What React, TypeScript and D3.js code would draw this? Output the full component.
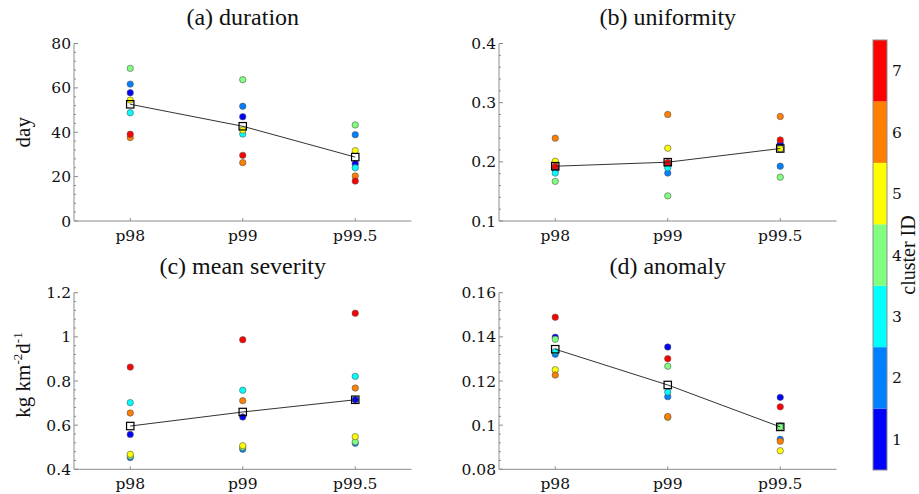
import * as d3 from "d3";

const categories = ["p98", "p99", "p99.5"];
const clusterIds = [1, 2, 3, 4, 5, 6, 7];
const clusterColors = ["#0000ff", "#0080ff", "#00ffff", "#80ff80", "#ffff00", "#ff8000", "#ff0000"];

// values per cluster (rows = cluster 1..7, columns = p98, p99, p99.5)
const durationByCluster = [
  [57.8, 47.0, 25.8],
  [61.7, 51.7, 38.9],
  [48.8, 39.2, 24.0],
  [68.8, 63.7, 43.3],
  [54.5, 41.0, 31.7],
  [37.6, 26.3, 20.3],
  [39.1, 29.6, 18.0],
];
const durationMean = [52.6, 42.7, 28.8];

const uniformityByCluster = [
  [0.188, 0.195, 0.231],
  [0.186, 0.181, 0.1926],
  [0.181, 0.19, 0.222],
  [0.167, 0.1425, 0.174],
  [0.201, 0.223, 0.222],
  [0.24, 0.28, 0.2766],
  [0.192, 0.199, 0.237],
];
const uniformityMean = [0.1926, 0.1994, 0.2225];

const severityByCluster = [
  [0.558, 0.637, 0.715],
  [0.453, 0.491, 0.518],
  [0.702, 0.758, 0.821],
  [0.46, 0.5, 0.525],
  [0.468, 0.507, 0.548],
  [0.655, 0.711, 0.768],
  [0.863, 0.987, 1.107],
];
const severityMean = [0.596, 0.6596, 0.715];

const anomalyByCluster = [
  [0.1398, 0.1354, 0.1126],
  [0.1321, 0.1129, 0.0936],
  [0.1333, 0.115, 0.0996],
  [0.1389, 0.1267, 0.0992],
  [0.1251, 0.1035, 0.0884],
  [0.1227, 0.1039, 0.0927],
  [0.1489, 0.1301, 0.1083],
];
const anomalyMean = [0.1344, 0.1182, 0.0992];

const durationTicks = [0, 20, 40, 60, 80];
const uniformityTicks = [0.1, 0.2, 0.3, 0.4];
const severityTicks = [0.4, 0.6, 0.8, 1, 1.2];
const anomalyTicks = [0.08, 0.1, 0.12, 0.14, 0.16];

const W = 919;
const H = 494;
const tickFont = "DejaVu Serif";
const textFont = "Liberation Serif";
const axisGray = "#8c8c8c";

const panels = [
  { title: "(a) duration", data: durationByCluster, mean: durationMean, ticks: durationTicks, x: [74, 411.5], y: [221, 43.5], ylabel: "day" },
  { title: "(b) uniformity", data: uniformityByCluster, mean: uniformityMean, ticks: uniformityTicks, x: [499, 836.5], y: [221, 43.5], ylabel: null },
  { title: "(c) mean severity", data: severityByCluster, mean: severityMean, ticks: severityTicks, x: [74, 411.5], y: [469.3, 292.7], ylabel: "kg" },
  { title: "(d) anomaly", data: anomalyByCluster, mean: anomalyMean, ticks: anomalyTicks, x: [499, 836.5], y: [469.3, 292.7], ylabel: null },
];

function Panel({ p }: { p: any }) {
  const x = d3.scaleLinear().domain([0.5, categories.length + 0.5]).range(p.x);
  const ticks: number[] = p.ticks;
  const y = d3.scaleLinear().domain([ticks[0], ticks[ticks.length - 1]]).range(p.y);
  const step = ticks[1] - ticks[0];
  const minor = d3.range(0, (ticks.length - 1) * 5 + 1).map((i) => ticks[0] + (i * step) / 5);
  const fmt = (v: number) => d3.format("~g")(+v.toFixed(4));
  const line = d3
    .line<number>()
    .x((_, i) => x(i + 1))
    .y((d) => y(d));
  const [x0, x1] = p.x;
  const [yb, yt] = p.y;
  const cx = (x0 + x1) / 2;

  return (
    <g>
      <text x={cx} y={yt - 19} textAnchor="middle" fontFamily={textFont} fontSize={24} fill="#111">
        {p.title}
      </text>
      {/* axes */}
      <line x1={x0} x2={x0} y1={yb} y2={yt} stroke={axisGray} strokeWidth={1} />
      <line x1={x0} x2={x1} y1={yb} y2={yb} stroke={axisGray} strokeWidth={1} />
      {minor.map((v, i) => (
        <line key={"m" + i} x1={x0} x2={x0 + (i % 5 === 0 ? 4 : 2)} y1={y(v)} y2={y(v)} stroke={axisGray} strokeWidth={1} />
      ))}
      {ticks.map((v) => (
        <text key={"t" + v} x={x0 - 3} y={y(v)} dy="0.36em" textAnchor="end" fontFamily={tickFont} fontSize={15.5} fill="#111">
          {fmt(v)}
        </text>
      ))}
      {categories.map((c, i) => (
        <g key={c}>
          <line x1={x(i + 1)} x2={x(i + 1)} y1={yb} y2={yb - 3} stroke={axisGray} strokeWidth={1} />
          <text x={x(i + 1)} y={yb + 20} textAnchor="middle" fontFamily={tickFont} fontSize={15.5} fill="#111">
            {c}
          </text>
        </g>
      ))}
      {/* cluster dots */}
      {p.data.map((row: number[], k: number) =>
        row.map((v, i) => (
          <circle key={k + "-" + i} cx={x(i + 1)} cy={y(v)} r={3.2} fill={clusterColors[k]} stroke="#555" strokeWidth={0.6} />
        ))
      )}
      {/* mean line */}
      <path d={line(p.mean) || ""} fill="none" stroke="#333" strokeWidth={1} />
      {p.mean.map((v: number, i: number) => (
        <rect key={"sq" + i} x={x(i + 1) - 3.7} y={y(v) - 3.7} width={7.4} height={7.4} fill="none" stroke="#000" strokeWidth={1.2} />
      ))}
      {p.ylabel === "day" && (
        <text transform={`translate(30,${(yb + yt) / 2}) rotate(-90)`} textAnchor="middle" fontFamily={textFont} fontSize={21} fill="#111">
          day
        </text>
      )}
      {p.ylabel === "kg" && (
        <text transform={`translate(30,${(yb + yt) / 2 - 6}) rotate(-90)`} textAnchor="middle" fontFamily={textFont} fontSize={21} fill="#111">
          kg km<tspan dy={-8} fontSize={13}>-2</tspan>
          <tspan dy={8}>d</tspan>
          <tspan dy={-8} fontSize={13}>-1</tspan>
        </text>
      )}
    </g>
  );
}

export default function App() {
  const cb = d3.scaleBand<number>().domain([...clusterIds].reverse()).range([40, 470]);
  const cbX = 873;
  const cbW = 14;
  return (
    <svg width={W} height={H} style={{ position: "absolute", left: 0, top: 0, background: "#fff" }}>
      {panels.map((p) => (
        <Panel key={p.title} p={p} />
      ))}
      {clusterIds.map((id, k) => (
        <g key={id}>
          <rect x={cbX} y={cb(id)} width={cbW} height={cb.bandwidth()} fill={clusterColors[k]} />
          <text x={cbX + cbW + 5} y={(cb(id) || 0) + cb.bandwidth() / 2} dy="0.36em" fontFamily={tickFont} fontSize={15.5} fill="#111">
            {id}
          </text>
        </g>
      ))}
      <rect x={cbX} y={40} width={cbW} height={430} fill="none" stroke={axisGray} strokeWidth={1} />
      <text transform={`translate(915,255) rotate(-90)`} textAnchor="middle" fontFamily={textFont} fontSize={20} fill="#111">
        cluster ID
      </text>
    </svg>
  );
}
